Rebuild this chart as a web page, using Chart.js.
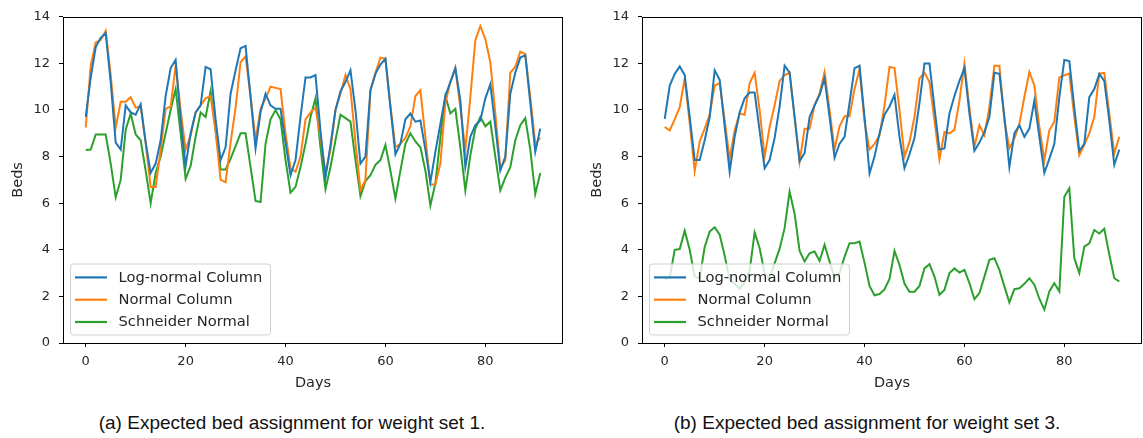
<!DOCTYPE html>
<html>
<head>
<meta charset="utf-8">
<script src="https://cdn.jsdelivr.net/npm/chart.js@4.4.0/dist/chart.umd.min.js"></script>
<style>
  body { margin: 0; width: 1143px; height: 438px; background: #fff; position: relative; overflow: hidden; }
  canvas { position: absolute; top: 0; }
  .caption {
    position: absolute; top: 412px; width: 500px; line-height: 22px;
    font-family: "Liberation Sans", Arial, sans-serif; font-size: 19px; color: #111; text-align: center;
  }
</style>
</head>
<body>
<canvas id="chartA" width="572" height="393" style="left:0"></canvas>
<canvas id="chartB" width="564" height="393" style="left:579px"></canvas>
<div class="caption" style="left:42px">(a) Expected bed assignment for weight set 1.</div>
<div class="caption" style="left:617px">(b) Expected bed assignment for weight set 3.</div>
<script>
// x positions (days) and tick values
const days = Array.from({ length: 92 }, (_, i) => i);
const xTicks = [0, 20, 40, 60, 80];
const seriesNames = ["Log-normal Column", "Normal Column", "Schneider Normal"];

// (a) weight set 1
const lognormal1 = [9.7, 11.4, 12.7, 13.1, 13.3, 11.2, 8.6, 8.3, 10.2, 9.9,
  9.8, 10.25, 8.6, 7.3, 7.7, 8.7, 10.6, 11.8, 12.15, 9.6,
  7.6, 9.0, 9.9, 10.2, 11.85, 11.75, 9.6, 7.85, 8.4, 10.7,
  11.7, 12.65, 12.75, 10.55, 8.35, 9.9, 10.7, 10.2, 10.05, 10.05,
  8.6, 7.2, 7.85, 9.7, 11.4, 11.4, 11.5, 9.1, 7.1, 8.5,
  10.0, 10.8, 11.2, 11.7, 10.0, 7.7, 8.0, 10.85, 11.55, 11.95,
  12.2, 10.1, 8.1, 8.55, 9.6, 9.85, 9.5, 9.55, 8.3, 6.9,
  8.2, 9.4, 10.6, 11.2, 11.8, 10.4, 7.55, 8.85, 9.35, 9.55,
  10.5, 11.1, 9.3, 7.4, 8.0, 10.7, 11.6, 12.25, 12.35, 10.3,
  8.2, 9.2];
const normal1 = [9.25, 11.9, 12.9, 13.0, 13.4, 11.5, 9.25, 10.35, 10.35, 10.55,
  10.1, 10.15, 8.6, 6.7, 6.7, 8.3, 10.05, 10.15, 11.9, 10.0,
  8.3, 8.9, 9.9, 10.2, 10.5, 10.6, 9.1, 7.0, 6.9, 8.6,
  10.1, 12.05, 12.3, 10.6, 8.7, 10.05, 10.5, 11.0, 10.95, 10.9,
  9.0, 7.5, 7.35, 8.0, 9.6, 9.9, 10.1, 8.85, 7.3, 8.3,
  10.0, 10.7, 11.5, 10.9, 8.6, 6.55, 7.0, 10.85, 11.6, 12.25,
  12.2, 10.2, 8.4, 8.55, 8.8, 9.3, 10.6, 10.85, 8.85, 6.8,
  6.8, 7.7, 10.3, 11.2, 11.8, 10.1, 8.3, 10.55, 13.0, 13.6,
  13.05, 12.05, 9.85, 7.5, 7.85, 11.6, 11.85, 12.5, 12.4, 10.55,
  8.55, 8.8];
const schneider1 = [8.28, 8.3, 8.95, 8.95, 8.95, 7.7, 6.25, 7.0, 9.15, 9.85,
  8.95, 8.7, 7.4, 6.0, 7.3, 8.0, 9.0, 10.0, 10.9, 9.0,
  7.05, 7.6, 8.85, 9.9, 9.7, 10.8, 9.1, 7.45, 7.45, 7.9,
  8.45, 9.0, 9.0, 7.55, 6.1, 6.05, 8.55, 9.6, 10.0, 9.6,
  7.85, 6.45, 6.7, 7.55, 8.55, 9.7, 10.5, 8.4, 6.6, 7.55,
  8.7, 9.8, 9.65, 9.5, 7.85, 6.3, 6.95, 7.2, 7.65, 7.85,
  8.5, 7.4, 6.2, 7.4, 8.55, 9.0, 8.65, 8.4, 7.4, 5.9,
  6.85, 8.8, 10.6, 9.85, 10.05, 8.4, 6.55, 8.05, 9.2, 9.7,
  9.3, 9.5, 8.0, 6.55, 7.1, 7.55, 8.7, 9.35, 9.65, 8.3,
  6.4, 7.3];

// (b) weight set 3
const lognormal3 = [9.62, 11.05, 11.55, 11.87, 11.5, 9.7, 7.85, 7.85, 8.7, 9.7,
  11.7, 11.3, 9.3, 7.35, 8.85, 9.9, 10.5, 10.75, 10.75, 9.1,
  7.5, 7.85, 8.8, 10.15, 11.9, 11.6, 9.7, 7.8, 8.15, 9.7,
  10.2, 10.65, 11.35, 9.7, 7.95, 8.55, 8.85, 10.3, 11.8, 11.9,
  9.7, 7.28, 8.0, 9.0, 9.8, 10.15, 10.65, 8.85, 7.5, 8.1,
  8.8, 10.3, 12.0, 12.0, 10.1, 8.3, 8.35, 9.85, 10.6, 11.25,
  11.8, 9.85, 8.25, 8.6, 9.05, 9.7, 11.6, 11.55, 9.7, 7.55,
  9.0, 9.35, 8.85, 9.2, 10.4, 8.85, 7.3, 7.9, 8.55, 10.55,
  12.15, 12.1, 10.1, 8.25, 8.55, 10.55, 10.9, 11.55, 11.25, 9.55,
  7.65, 8.3];
const normal3 = [9.27, 9.12, 9.6, 10.12, 11.35, 9.45, 7.38, 8.65, 9.2, 9.8,
  11.05, 11.15, 9.55, 7.9, 9.12, 9.85, 9.8, 11.15, 11.6, 10.0,
  8.0, 9.27, 10.2, 11.25, 11.5, 11.6, 9.7, 7.78, 9.2, 9.2,
  10.2, 10.7, 11.63, 10.0, 8.3, 9.3, 9.73, 9.73, 10.9, 11.75,
  9.5, 8.3, 8.55, 8.9, 10.2, 11.85, 11.8, 10.0, 8.0, 8.63,
  9.7, 11.35, 11.6, 11.2, 9.55, 7.88, 9.06, 9.0, 9.15, 10.4,
  12.0, 10.1, 8.42, 9.35, 8.92, 10.13, 11.9, 11.9, 9.56, 8.35,
  8.78, 9.4, 10.56, 11.63, 11.06, 9.27, 7.85, 9.13, 9.5, 11.4,
  11.49, 11.56, 9.7, 8.06, 8.5, 9.0, 9.7, 11.56, 11.59, 9.85,
  8.13, 8.85];
const schneider3 = [2.74, 2.8, 4.0, 4.03, 4.82, 4.0, 2.85, 2.78, 4.12, 4.78,
  4.97, 4.65, 3.75, 2.72, 2.55, 2.32, 2.62, 3.1, 4.75, 4.07,
  3.0, 2.78, 3.42, 4.05, 4.93, 6.5, 5.55, 3.95, 3.5, 3.85,
  3.93, 3.52, 4.22, 3.5, 2.8, 3.0, 3.7, 4.28, 4.28, 4.35,
  3.45, 2.45, 2.05, 2.1, 2.3, 2.75, 3.95, 3.35, 2.55, 2.2,
  2.2, 2.45, 3.2, 3.38, 2.85, 2.07, 2.28, 3.0, 3.2, 3.02,
  3.14, 2.57, 1.88, 2.14, 2.85, 3.57, 3.64, 3.14, 2.43, 1.74,
  2.31, 2.35, 2.54, 2.78, 2.5, 1.9, 1.43, 2.21, 2.57, 2.21,
  6.28, 6.64, 3.64, 3.0, 4.14, 4.28, 4.85, 4.7, 4.9, 3.8,
  2.78, 2.64];

const colors = ["#1f77b4", "#ff7f0e", "#2ca02c"];
const tickFont = { family: "'DejaVu Sans', sans-serif", size: 13 };
const labelFont = { family: "'DejaVu Sans', sans-serif", size: 14.5 };
const textColor = "#262626";

// matplotlib-like frame (all four spines) and a legend box in the lower left
const frameAndLegend = {
  id: "frameAndLegend",
  afterDatasetsDraw(chart) {
    const { ctx, chartArea: a } = chart;
    ctx.save();

    // legend box
    const bx = a.left + 7.5, by = a.bottom - 79, bw = 200, bh = 71, r = 3;
    ctx.beginPath();
    ctx.moveTo(bx + r, by);
    ctx.arcTo(bx + bw, by, bx + bw, by + bh, r);
    ctx.arcTo(bx + bw, by + bh, bx, by + bh, r);
    ctx.arcTo(bx, by + bh, bx, by, r);
    ctx.arcTo(bx, by, bx + bw, by, r);
    ctx.closePath();
    ctx.fillStyle = "rgba(255,255,255,0.8)";
    ctx.fill();
    ctx.strokeStyle = "#d0d0d0";
    ctx.lineWidth = 1;
    ctx.stroke();

    ctx.font = "14.7px 'DejaVu Sans', sans-serif";
    ctx.textBaseline = "middle";
    ctx.fillStyle = textColor;
    chart.data.datasets.forEach((ds, i) => {
      const y = a.bottom - 65.6 + i * 22.3;
      ctx.beginPath();
      ctx.moveTo(a.left + 12, y);
      ctx.lineTo(a.left + 44, y);
      ctx.strokeStyle = ds.borderColor;
      ctx.lineWidth = 2.2;
      ctx.stroke();
      ctx.fillText(ds.label, a.left + 55.5, y + 0.5);
    });

    // spines
    ctx.strokeStyle = "#000";
    ctx.lineWidth = 1;
    ctx.strokeRect(Math.round(a.left) + 0.5, Math.round(a.top) + 0.5,
      Math.round(a.right - a.left) - 1, Math.round(a.bottom - a.top));
    ctx.restore();
  },
};

/**
 * Draws one panel of bed counts per day.
 * @param {string} id - canvas element id.
 * @param {number[][]} series - the three series in legend order.
 * @param {number} padRight - right padding so the plot box lines up.
 */
function drawPanel(id, series, padRight) {
  const canvas = document.getElementById(id);
  return new Chart(canvas.getContext("2d"), {
    type: "line",
    data: {
      labels: days,
      datasets: series.map((data, i) => ({
        label: seriesNames[i],
        data: data,
        borderColor: colors[i],
        backgroundColor: colors[i],
        borderWidth: 2,
        pointRadius: 0,
        tension: 0,
        fill: false,
      })),
    },
    options: {
      responsive: false,
      animation: false,
      layout: { padding: { top: 16, right: padRight, left: 0, bottom: 0 } },
      plugins: { legend: { display: false }, tooltip: { enabled: false } },
      scales: {
        x: {
          type: "linear",
          min: -4.55,
          max: 95.55,
          afterBuildTicks: (s) => { s.ticks = xTicks.map((v) => ({ value: v })); },
          afterFit: (s) => { s.height = 393 - 343; },
          grid: { display: true, drawOnChartArea: false, drawTicks: true, tickLength: 4, color: "#000" },
          border: { display: false },
          ticks: { color: textColor, font: tickFont, padding: 7, maxRotation: 0, autoSkip: false },
          title: { display: true, text: "Days", color: textColor, font: labelFont, padding: { top: 0, bottom: 1 } },
        },
        y: {
          min: 0,
          max: 14,
          afterFit: (s) => { s.width = 63; },
          grid: { display: true, drawOnChartArea: false, drawTicks: true, tickLength: 4, color: "#000" },
          border: { display: false },
          ticks: { stepSize: 2, color: textColor, font: tickFont, padding: 9 },
          title: { display: true, text: "Beds", color: textColor, font: labelFont, padding: { top: 10, bottom: 0 } },
        },
      },
    },
    plugins: [frameAndLegend],
  });
}

drawPanel("chartA", [lognormal1, normal1, schneider1], 9);
drawPanel("chartB", [lognormal3, normal3, schneider3], 1);
</script>
</body>
</html>
